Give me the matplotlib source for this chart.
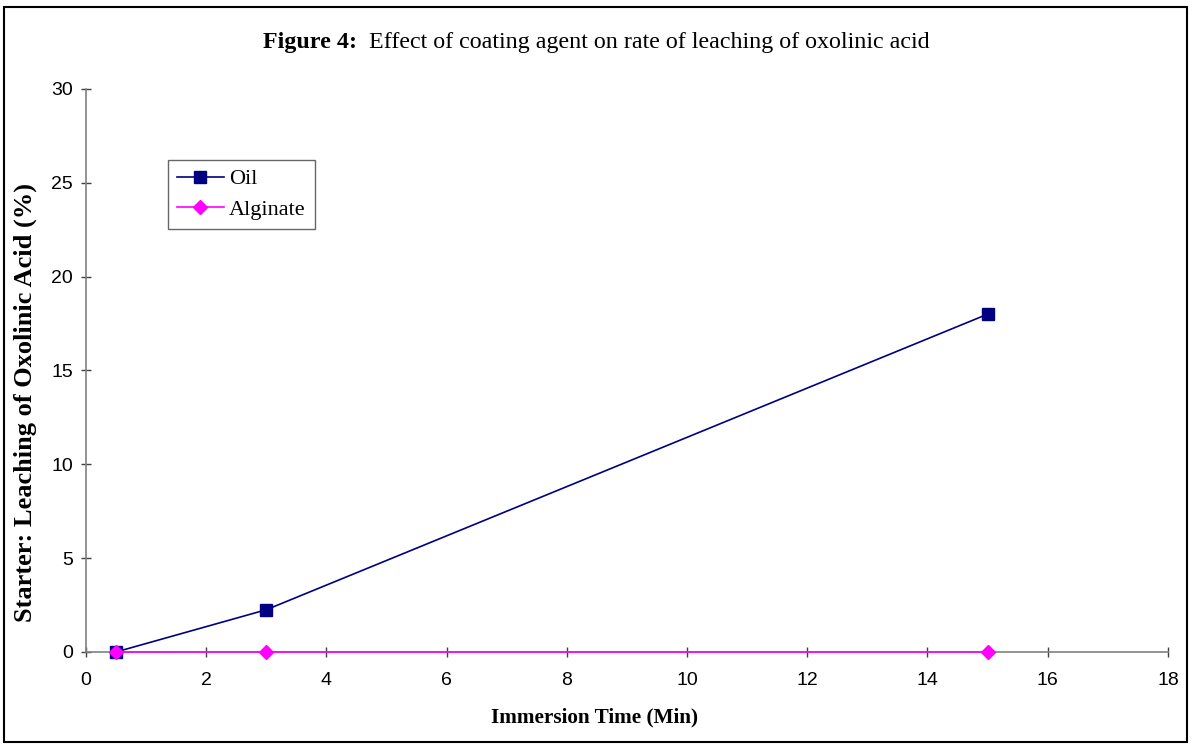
import matplotlib
matplotlib.use("Agg")
import matplotlib.pyplot as plt
from matplotlib.patches import Rectangle

# data
time_min = [0.5, 3, 15]
oil = [0, 2.25, 18]
alginate = [0, 0, 0]

x_ticks = [0, 2, 4, 6, 8, 10, 12, 14, 16, 18]
y_ticks = [0, 5, 10, 15, 20, 25, 30]

serif = ['Liberation Serif', 'DejaVu Serif']
sans = ['Liberation Sans', 'DejaVu Sans']

fig = plt.figure(figsize=(11.92, 7.44), dpi=100)
ax = fig.add_axes([0.0721, 0.1237, 0.9077, 0.7567])

ax.plot(time_min, oil, color='#000080', lw=1.2, marker='s', ms=8, label='Oil', clip_on=False, zorder=3)
ax.plot(time_min, alginate, color='#FF00FF', lw=1.2, marker='D', ms=7, label='Alginate', clip_on=False, zorder=4)

ax.set_xlim(0, 18)
ax.set_ylim(0, 30)
ax.set_xticks(x_ticks)
ax.set_yticks(y_ticks)

for s in ['top', 'right']:
    ax.spines[s].set_visible(False)
for s in ['left', 'bottom']:
    ax.spines[s].set_color('#808080')
    ax.spines[s].set_linewidth(1.2)

ax.tick_params(axis='both', direction='inout', length=7.5, width=1, color='#404040', labelsize=14)
ax.tick_params(axis='x', pad=11)
ax.tick_params(axis='y', pad=5.5)
for lab in ax.get_xticklabels() + ax.get_yticklabels():
    lab.set_family(sans)

ax.set_xlabel('Immersion Time (Min)', family=serif, fontsize=15.3, fontweight='bold')
ax.set_ylabel('Starter: Leaching of Oxolinic Acid (%)', family=serif, fontsize=19, fontweight='bold')
ax.xaxis.set_label_coords(0.47, -0.0995)
ax.yaxis.set_label_coords(-0.045, 0.444)

# title: bold "Figure 4:" followed by normal text
fig.text(0.5, 0.9435, 'Figure 4:', family=serif, fontsize=17.3, fontweight='bold', ha='right', va='center')
fig.text(0.5, 0.9435, '  Effect of coating agent on rate of leaching of oxolinic acid', family=serif, fontsize=17.3,
         ha='left', va='center')

leg = ax.legend(loc='upper left', bbox_to_anchor=(0.0758, 0.874), borderaxespad=0, prop={'family': serif, 'size': 16},
                fancybox=False, frameon=True, edgecolor='#404040', handlelength=2.1, handletextpad=0.25,
                borderpad=0.4, labelspacing=0.45)
leg.get_frame().set_linewidth(1)

fig.patches.append(Rectangle((0.003, 0.003), 0.993, 0.988, transform=fig.transFigure, fill=False,
                             edgecolor='black', lw=1.5))

# shift title so the whole line is centred
fig.canvas.draw()
r = fig.canvas.get_renderer()
texts = fig.texts
w1 = texts[0].get_window_extent(r).width
w2 = texts[1].get_window_extent(r).width
x0 = (fig.bbox.width - (w1 + w2)) / 2
texts[0].set_x((x0 + w1) / fig.bbox.width)
texts[1].set_x((x0 + w1) / fig.bbox.width)

fig.savefig('out.png', dpi=100)
